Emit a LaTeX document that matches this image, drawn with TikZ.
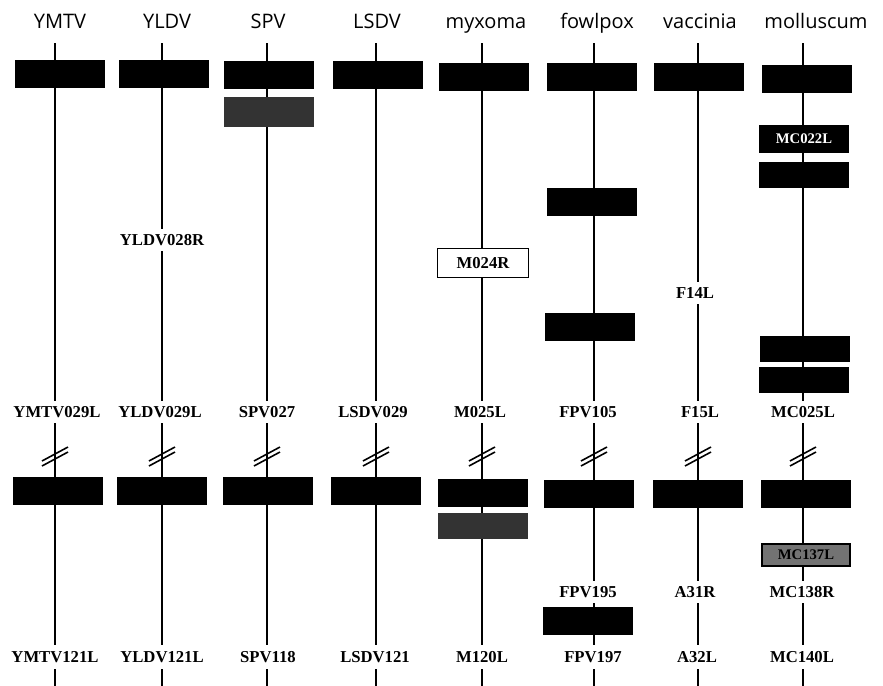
\documentclass[tikz,border=0pt]{standalone}
\usepackage{fontspec}
\setmainfont{Liberation Serif}
\newfontfamily\headfont{Open Sans}
\usetikzlibrary{positioning}

\tikzset{
  spine/.style={line width=1.4pt},
  head/.style={anchor=base, font=\headfont\fontsize{15}{17}\selectfont},
  blk/.style={fill=black, minimum width=68pt, minimum height=21pt, inner sep=0pt},
  spk/.style={blk, fill=black!80},
  lbl/.style={fill=white, inner xsep=3pt, inner ysep=4pt, font=\bfseries\fontsize{12.5}{14}\selectfont},
  boxed/.style={lbl, draw=black, line width=1pt, minimum width=68pt, minimum height=22pt},
  brk/.style={line width=1.2pt}
}

\begin{document}
\begin{tikzpicture}[x=0.75pt,y=-0.75pt]
\useasboundingbox (0,0) rectangle (883,686);

% genome lines and virus names
\foreach \x/\hx/\n/\t in {55/60/ymtv/YMTV,162/167/yldv/YLDV,267/268/spv/SPV,376/377/lsdv/LSDV,
                          482/486/myx/myxoma,594/597/fpv/fowlpox,698/700/vac/vaccinia,803/816/mol/molluscum}{
  \node[head] (\n-head) at (\hx,28) {\t};
  \coordinate (\n-top) at (\x,43);
  \coordinate (\n-end) at (\x,686);
  \draw[spine] (\n-top) -- (\n-end);
}

% first conserved block
\foreach \x/\y/\n in {60/74/ymtv,164/74/yldv,269/75/spv,378/75/lsdv,484/77/myx,592/77/fpv,699/77/vac,807/79/mol}
  \node[blk] (\n-g1) at (\x,\y) {};

\node[spk, minimum height=22pt] (spv-g2) at (269,112) {};
\node[blk, text=white, font=\bfseries\fontsize{11}{13}\selectfont] (mol-g2) at (804,139) {MC022L};
\node[blk, minimum height=20pt, below=6pt of mol-g2] (mol-g3) {};
\node[blk] (fpv-g2) at (592,202) {};
\node[lbl] (yldv-l0) at (162,240) {YLDV028R};
\node[boxed] (myx-l0) at (483,263) {M024R};
\node[lbl] (vac-l0) at (695,293) {F14L};
\node[blk] (fpv-g3) at (590,327) {};
\node[blk, minimum height=19pt] (mol-g4) at (805,349) {};
\node[blk, minimum height=20pt] (mol-g5) at (804,380) {};

% flanking genes
\foreach \x/\n/\t in {57/ymtv/YMTV029L,160/yldv/YLDV029L,267/spv/SPV027,373/lsdv/LSDV029,
                      480/myx/M025L,588/fpv/FPV105,700/vac/F15L,803/mol/MC025L}
  \node[lbl] (\n-l1) at (\x,412) {\t};

% breaks
\foreach \x in {55,162,267,376,482,594,698,803}{
  \draw[brk] (\x-13,461) -- (\x+13,447);
  \draw[brk] (\x-13,466) -- (\x+13,452);
}

% second conserved block
\foreach \x/\y/\n in {58/491/ymtv,162/491/yldv,268/491/spv,376/491/lsdv,483/493/myx,589/494/fpv,698/494/vac,806/494/mol}
  \node[blk] (\n-g9) at (\x,\y) {};

\node[spk, minimum height=19pt] (myx-g10) at (483,526) {};
\node[spk, draw=black, line width=1.4pt, minimum width=66pt, minimum height=16pt, fill=black!55,
      font=\bfseries\fontsize{11}{13}\selectfont] (mol-g10) at (806,555) {MC137L};
\node[lbl] (fpv-l2) at (588,592) {FPV195};
\node[lbl] (vac-l2) at (695,592) {A31R};
\node[lbl] (mol-l2) at (802,592) {MC138R};
\node[blk] (fpv-g11) at (588,621) {};

% end genes
\foreach \x/\n/\t in {55/ymtv/YMTV121L,162/yldv/YLDV121L,268/spv/SPV118,375/lsdv/LSDV121,
                      482/myx/M120L,593/fpv/FPV197,697/vac/A32L,802/mol/MC140L}
  \node[lbl, inner ysep=5pt] (\n-l3) at (\x,657) {\t};
\end{tikzpicture}
\end{document}
